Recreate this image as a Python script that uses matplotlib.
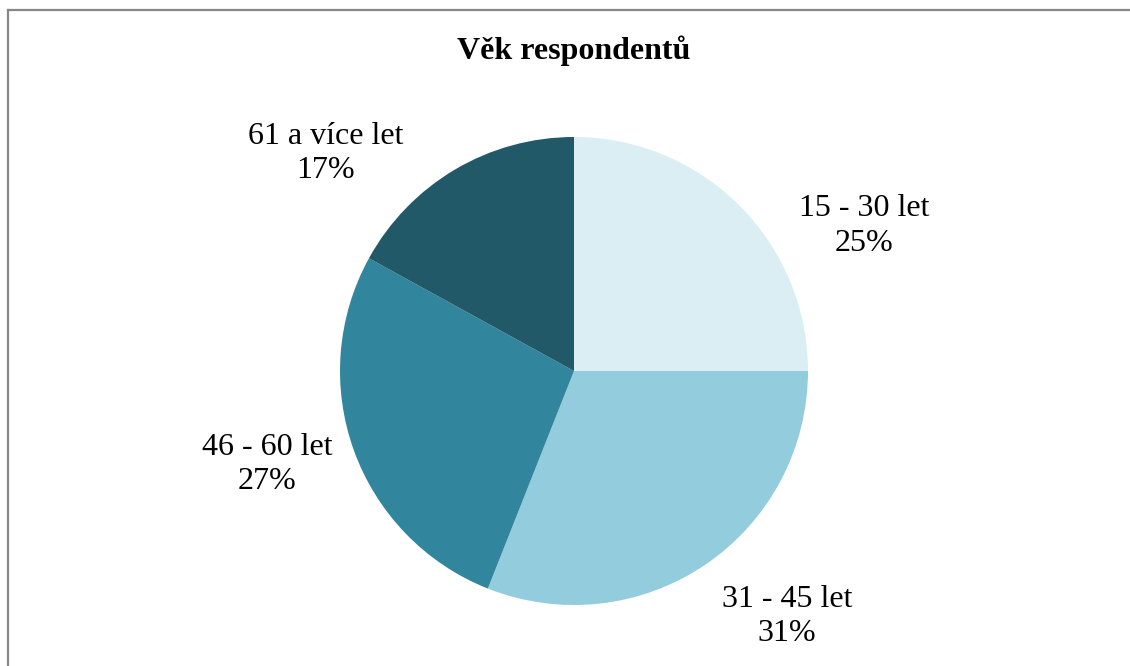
import matplotlib.pyplot as plt
from matplotlib.lines import Line2D

labels = ["15 - 30 let", "31 - 45 let", "46 - 60 let", "61 a více let"]
shares = [25, 31, 27, 17]
colors = ["#DBEEF3", "#93CDDD", "#31859C", "#215968"]
# label anchor positions (pie radius = 1)
label_pos = [(1.24, 0.62), (0.91, -1.05), (-1.31, -0.40), (-1.06, 0.93)]

plt.rcParams["font.family"] = ["Liberation Serif", "DejaVu Serif"]

fig = plt.figure(figsize=(11.3, 6.66), dpi=100)
W, H = 1130, 666
cx, cy, r = 574, 371, 234
ax = fig.add_axes([(cx - r) / W, (H - cy - r) / H, 2 * r / W, 2 * r / H])
ax.pie(shares, colors=colors, startangle=90, counterclock=False, radius=1,
       wedgeprops=dict(linewidth=0))
ax.set_xlim(-1, 1)
ax.set_ylim(-1, 1)
ax.set_aspect("equal")
ax.axis("off")

for lab, val, (x, y) in zip(labels, shares, label_pos):
    ax.text(x, y, f"{lab}\n{val}%", ha="center", va="center", fontsize=23,
            linespacing=1.25, clip_on=False)

fig.text(574 / W, 1 - 51 / H, "Věk respondentů", ha="center", va="center",
         fontsize=23, fontweight="bold")

# chart frame (top and left edges visible)
fig.add_artist(Line2D([7.5 / W, 7.5 / W], [0, 1 - 9.5 / H], color="#878787",
                      lw=1.6, transform=fig.transFigure))
fig.add_artist(Line2D([7.5 / W, 1], [1 - 9.5 / H, 1 - 9.5 / H], color="#878787",
                      lw=1.6, transform=fig.transFigure))

fig.savefig("out.png", dpi=100)
